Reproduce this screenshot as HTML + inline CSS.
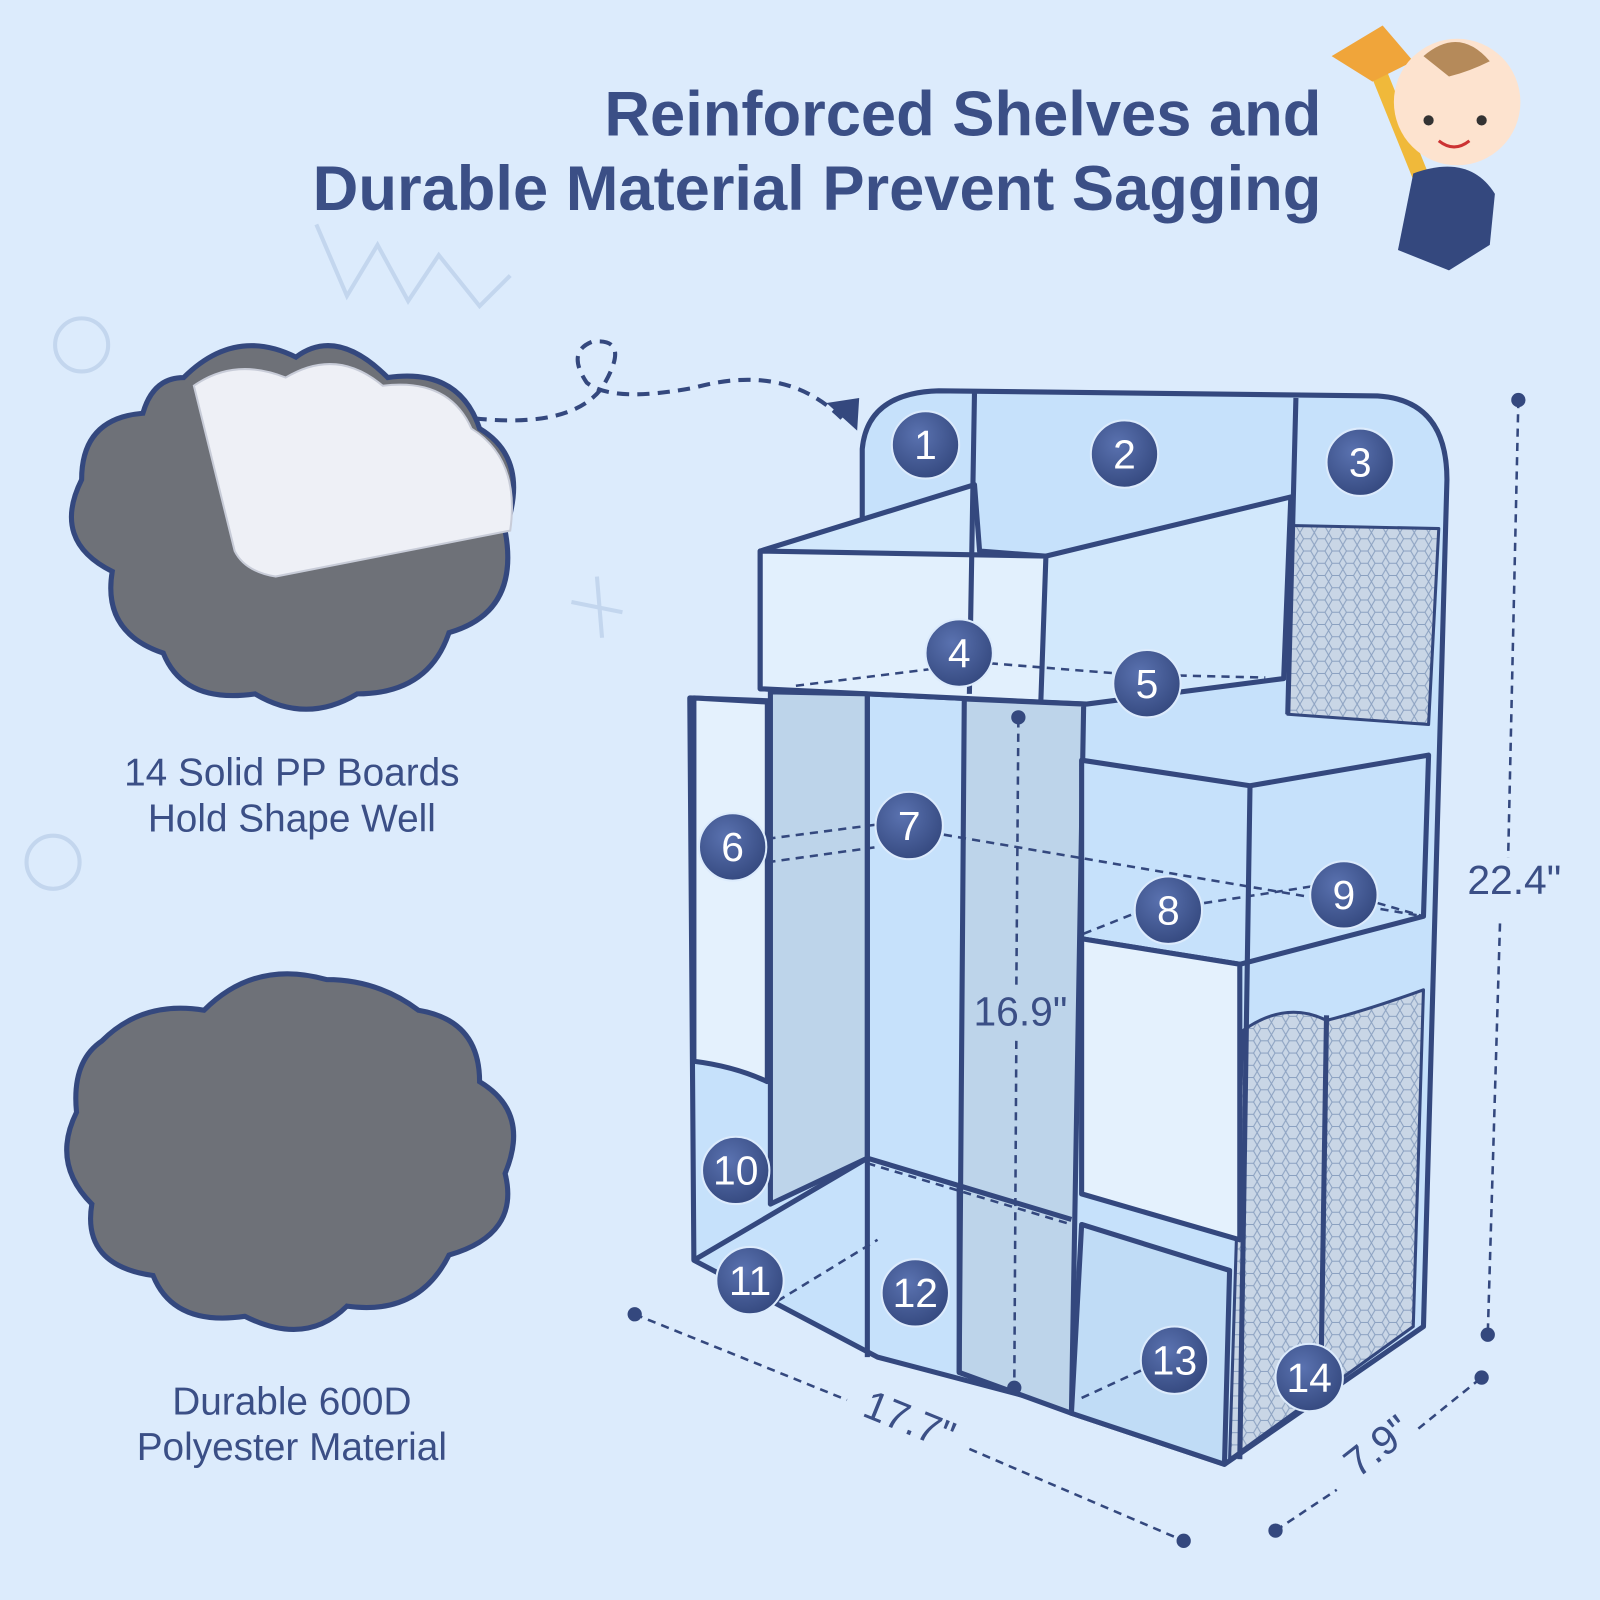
<!DOCTYPE html>
<html><head><meta charset="utf-8"><style>
html,body{margin:0;padding:0;background:#dcebfc;}
svg{display:block}
text{font-family:"Liberation Sans",sans-serif}
</style></head><body>
<svg width="1600" height="1600" viewBox="0 0 1568 1568" xmlns="http://www.w3.org/2000/svg">
<defs>
<pattern id="hex" width="14" height="12" patternUnits="userSpaceOnUse">
<rect width="14" height="12" fill="#c9d6e6"/>
<path d="M0 6 L3.5 0 L10.5 0 L14 6 L10.5 12 L3.5 12 Z" fill="none" stroke="#8aa0c0" stroke-width="1"/>
</pattern>
<radialGradient id="cg" cx="40%" cy="35%" r="70%"><stop offset="0" stop-color="#5a72b0"/><stop offset="1" stop-color="#34487e"/></radialGradient>
</defs>
<rect width="1568" height="1568" fill="#dcebfc"/>
<!-- faint doodles -->
<g fill="none" stroke="#c3d6ee" stroke-width="4">
<circle cx="80" cy="338" r="26"/><circle cx="52" cy="845" r="26"/>
<path d="M310 220 L340 290 L370 240 L400 295 L430 250 L470 300 L500 270"/>
<path d="M560 590 L610 600 M585 565 L590 625"/>
</g>
<!-- title -->
<g font-weight="bold" font-size="62" fill="#3b4f86" text-anchor="end">
<text x="1295" y="133">Reinforced Shelves and</text>
<text x="1295" y="206">Durable Material Prevent Sagging</text>
</g>
<!-- baby -->
<g>
<rect x="1375" y="60" width="16" height="185" fill="#f0b93a" transform="rotate(-22 1383 150)"/>
<path d="M1305 55 L1355 25 L1385 60 L1345 80 Z" fill="#f0a53a"/>
<circle cx="1428" cy="100" r="62" fill="#fde3cf"/>
<path d="M1395 55 Q1430 25 1460 60 Q1440 70 1420 75 Z" fill="#b58a5a"/>
<circle cx="1400" cy="118" r="5" fill="#333"/><circle cx="1452" cy="118" r="5" fill="#333"/>
<path d="M1410 138 Q1425 150 1440 138" stroke="#c33" stroke-width="3" fill="none"/>
<path d="M1385 170 Q1440 150 1465 190 L1460 240 L1420 265 L1370 245 Z" fill="#34487e"/>
</g>
<!-- clouds -->
<path d="M180 370 Q230 320 290 350 Q330 320 380 370 Q450 360 470 420 Q520 450 495 520 Q510 600 440 620 Q420 680 350 680 Q300 710 250 680 Q180 690 160 640 Q100 620 110 560 Q50 530 80 470 Q80 410 140 405 Q150 370 180 370 Z" fill="#6e7178" stroke="#34487e" stroke-width="5"/>
<path d="M190 378 Q230 350 280 370 Q330 340 375 378 Q440 370 462 420 Q510 450 500 520 L270 565 Q240 560 230 540 Z" fill="#eef0f6" stroke="#c8ccd8" stroke-width="2"/>
<path d="M100 1020 Q140 980 200 990 Q250 940 320 960 Q370 960 410 990 Q470 1000 470 1060 Q520 1090 495 1150 Q510 1210 440 1230 Q410 1290 340 1280 Q300 1320 240 1290 Q170 1300 150 1250 Q80 1240 90 1180 Q50 1140 75 1090 Q70 1040 100 1020 Z" fill="#6e7178" stroke="#34487e" stroke-width="5"/>
<g font-size="38" fill="#3b4f86" text-anchor="middle">
<text x="286" y="770">14 Solid PP Boards</text>
<text x="286" y="815">Hold Shape Well</text>
<text x="286" y="1386">Durable 600D</text>
<text x="286" y="1431">Polyester Material</text>
</g>
<!-- dashed arrow -->
<path d="M465 410 Q560 420 590 380 Q620 330 580 335 Q555 345 575 375 Q600 395 680 380 Q770 355 825 410" fill="none" stroke="#34487e" stroke-width="4" stroke-dasharray="12 8"/>
<path d="M810 395 L840 422 L842 390 Z" fill="#34487e"/>
<!-- shelf -->
<g stroke="#34487e" stroke-width="5" stroke-linejoin="round">
<path d="M845 690 L845 440 Q850 385 920 383 L1350 388 Q1418 392 1418 470 L1395 1300 L1200 1435 L1050 1385 L1050 1380 L860 1330 L680 1235 L676 684 L845 690 Z" fill="#c6e1fb"/>
<path d="M1265 515 L1410 518 L1400 710 L1262 700 Z" fill="url(#hex)" stroke-width="3"/>
<path d="M1218 1010 Q1260 980 1300 1000 Q1340 990 1395 970 L1385 1300 L1205 1430 Z" fill="url(#hex)" stroke-width="3"/>
<path d="M745 540 L955 475 L960 540 L1025 545 L1265 487 L1258 665 L1065 690 L1020 688 L745 675 Z" fill="#d2e8fc"/>
<path d="M745 540 L1025 545 L1020 688 L745 675 Z" fill="#e2f0fd"/>
<path d="M680 684 L752 688 L752 1060 Q720 1045 680 1040 Z" fill="#e4f1fd"/>
<path d="M755 678 L850 680 L850 1135 L755 1180 Z" fill="#bdd4ea"/>
<path d="M945 685 L1062 690 L1050 1385 L940 1345 Z" fill="#bdd4ea"/>
<path d="M1060 745 L1225 770 L1400 740 L1395 898 L1215 945 L1060 920 Z" fill="#c6e1fb"/>
<path d="M1060 920 L1215 945 L1215 1215 L1060 1170 Z" fill="#e4f1fd"/>
<path d="M1060 1200 L1205 1245 L1200 1435 L1050 1385 Z" fill="#c0dcf6"/>
<path d="M680 1235 L850 1135 L1050 1195" fill="none"/>
<path d="M955 385 L950 680 M1270 390 L1262 700 M1225 770 L1215 1430 M1300 995 L1295 1320 M850 680 L850 1330 M940 1345 L940 1160" fill="none"/>
</g>
<g stroke="#34487e" stroke-width="2.5" stroke-dasharray="8 6" fill="none">
<path d="M780 672 L910 656 M970 650 L1095 660 M1155 662 L1240 664"/>
<path d="M752 822 L690 830 M752 845 L860 830 M752 822 L860 808 M925 818 L1395 898"/>
<path d="M1062 915 L1125 890 M1180 885 L1290 868 M1350 885 L1395 898"/>
<path d="M762 1275 L860 1215 M850 1140 L1050 1200"/>
<path d="M1060 1370 L1125 1340"/>
<path d="M998 705 L996 970 M996 1020 L994 1360"/>
<path d="M1488 392 L1478 840 M1470 905 L1458 1308"/>
<path d="M622 1288 L830 1372 M950 1420 L1160 1510"/>
<path d="M1250 1500 L1310 1460 M1390 1400 L1452 1350"/>
</g>
<g fill="#34487e">
<circle cx="998" cy="703" r="7"/><circle cx="994" cy="1360" r="7"/>
<circle cx="1488" cy="392" r="7"/><circle cx="1458" cy="1308" r="7"/>
<circle cx="622" cy="1288" r="7"/><circle cx="1160" cy="1510" r="7"/>
<circle cx="1250" cy="1500" r="7"/><circle cx="1452" cy="1350" r="7"/>
</g>
<g font-size="40" fill="#3b4f86" text-anchor="middle">
<text x="1000" y="1005">16.9"</text>
<text x="1484" y="876">22.4"</text>
<text x="890" y="1405" transform="rotate(22 890 1395)">17.7"</text>
<text x="1352" y="1430" transform="rotate(-38 1352 1420)">7.9"</text>
</g>
<!-- numbered badges -->
<g fill="url(#cg)" stroke="#dcebfc" stroke-width="2">
<circle cx="907" cy="436" r="33"/><circle cx="1102" cy="445" r="33"/><circle cx="1333" cy="453" r="33"/>
<circle cx="940" cy="640" r="33"/><circle cx="1124" cy="670" r="33"/><circle cx="718" cy="830" r="33"/>
<circle cx="891" cy="809" r="33"/><circle cx="1145" cy="892" r="33"/><circle cx="1317" cy="877" r="33"/>
<circle cx="721" cy="1147" r="33"/><circle cx="735" cy="1255" r="33"/><circle cx="897" cy="1267" r="33"/>
<circle cx="1151" cy="1333" r="33"/><circle cx="1283" cy="1350" r="33"/>
</g>
<g font-size="40" fill="#fff" text-anchor="middle">
<text x="907" y="450">1</text><text x="1102" y="459">2</text><text x="1333" y="467">3</text>
<text x="940" y="654">4</text><text x="1124" y="684">5</text><text x="718" y="844">6</text>
<text x="891" y="823">7</text><text x="1145" y="906">8</text><text x="1317" y="891">9</text>
<text x="721" y="1161">10</text><text x="735" y="1269">11</text><text x="897" y="1281">12</text>
<text x="1151" y="1347">13</text><text x="1283" y="1364">14</text>
</g>
</svg>
</body></html>
